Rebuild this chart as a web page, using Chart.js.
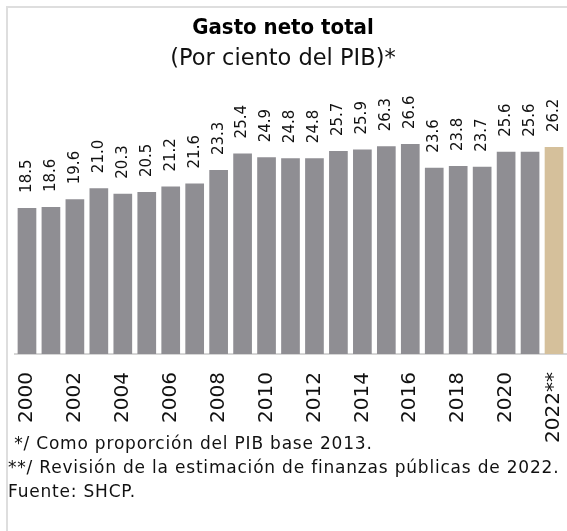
<!DOCTYPE html>
<html>
<head>
<meta charset="utf-8">
<script src="https://cdn.jsdelivr.net/npm/chart.js@4"></script>
<style>
  html, body { margin:0; padding:0; background:#fff; }
  #wrap { position:relative; width:567px; height:531px; overflow:hidden; }
  #frame { position:absolute; left:6px; top:6px; width:600px; height:600px; border-left:2px solid #dedede; border-top:2px solid #dedede; }
  canvas { position:absolute; left:0; top:0; }
</style>
</head>
<body>
<div id="wrap">
  <div id="frame"></div>
  <canvas id="c" width="567" height="531"></canvas>
</div>
<script>
// Gasto neto total, % del PIB
const years = ['2000','2001','2002','2003','2004','2005','2006','2007','2008','2009','2010','2011',
  '2012','2013','2014','2015','2016','2017','2018','2019','2020','2021','2022**'];
const gasto = [18.5,18.6,19.6,21.0,20.3,20.5,21.2,21.6,23.3,25.4,24.9,24.8,
  24.8,25.7,25.9,26.3,26.6,23.6,23.8,23.7,25.6,25.6,26.2];
const titleText = 'Gasto neto total';
const subtitleText = '(Por ciento del PIB)*';
const notes = [
  ' */ Como proporción del PIB base 2013.',
  '**/ Revisión de la estimación de finanzas públicas de 2022.',
  'Fuente: SHCP.'
];

const FONT = "'DejaVu Sans', sans-serif";
const grey = '#8f8e93', tan = '#d5c09b';
const colors = years.map((y,i)=> i===years.length-1 ? tan : grey);

// valores rotados sobre cada barra
const barLabels = {
  id:'barLabels',
  afterDatasetsDraw(chart){
    const ctx = chart.ctx;
    const meta = chart.getDatasetMeta(0);
    ctx.save();
    ctx.font = '15px ' + FONT;
    ctx.fillStyle = '#111';
    ctx.textAlign = 'left';
    ctx.textBaseline = 'middle';
    meta.data.forEach((bar,i)=>{
      ctx.save();
      ctx.translate(bar.x, bar.y - 15);
      ctx.rotate(-Math.PI/2);
      ctx.fillText(gasto[i].toFixed(1), 0, 0);
      ctx.restore();
    });
    ctx.restore();
  }
};

const footNotes = {
  id:'footNotes',
  afterDraw(chart){
    const ctx = chart.ctx;
    ctx.save();
    ctx.font = '17px ' + FONT;
    ctx.letterSpacing = '0.8px';
    ctx.fillStyle = '#111';
    ctx.textBaseline = 'middle';
    const ys = [445, 469, 493];
    notes.forEach((t,i)=> ctx.fillText(t, 8, ys[i]));
    ctx.restore();
  }
};

new Chart(document.getElementById('c'), {
  type:'bar',
  data:{ labels: years, datasets:[{
    data: gasto, backgroundColor: colors,
    borderWidth: 0,
    barPercentage: 0.78, categoryPercentage: 1
  }]},
  options:{
    responsive:false, animation:false,
    layout:{ padding:{ left:0, right:1, top:0, bottom:0 } },
    plugins:{
      legend:{ display:false }, tooltip:{ enabled:false },
      title:{ display:true, text:titleText, color:'#000',
        font:{ family:"'DejaVu Sans Condensed', sans-serif", size:22, weight:'bold' }, padding:{ top:15, bottom:0 } },
      subtitle:{ display:true, text:subtitleText, color:'#111',
        font:{ family:FONT, size:22.5 }, padding:{ top:4, bottom:21 } }
    },
    scales:{
      x:{
        grid:{ display:false },
        border:{ display:true, color:'#d6d6d6', width:2 },
        ticks:{ autoSkip:false, minRotation:90, maxRotation:90, padding:10, color:'#111',
          font:{ family:FONT, size:20 },
          callback(v,i){ return i%2===0 ? years[i] : ''; } },
        afterFit(axis){ axis.height = 177; axis.paddingLeft = 0; axis.paddingRight = 0; }
      },
      y:{ display:true, min:0, max:33,
        grid:{ display:false }, border:{ display:false }, ticks:{ display:false },
        afterFit(axis){ axis.width = 15; } }
    }
  },
  plugins:[barLabels, footNotes]
});
</script>
</body>
</html>
